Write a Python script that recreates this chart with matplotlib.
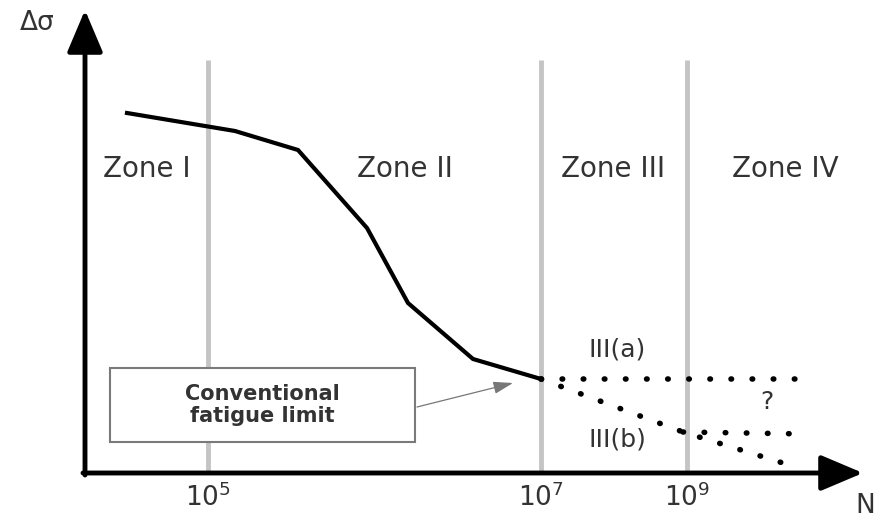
import matplotlib.pyplot as plt
from matplotlib.patches import Rectangle

# schematic S-N curve, positions in chart units (origin at axis corner)
curve_x = [42, 150, 213, 282, 323, 388, 456]
curve_y = [360, 342, 323, 245, 170, 114, 94]

# dotted branches beyond the conventional limit
branch_a_x = [456, 712]
branch_a_y = [94, 94]
branch_b_x = [456, 598, 714]
branch_b_y = [94, 41, 5]
branch_b2_x = [598, 724]
branch_b2_y = [41, 39]

zone_lines = [123, 456, 602]
tick_labels = ['$10^5$', '$10^7$', '$10^9$']
zone_names = ['Zone I', 'Zone II', 'Zone III', 'Zone IV']
zone_x = [62, 320, 528, 700]

txt = '#333333'
grey = '#c4c4c4'

fig = plt.figure(figsize=(8.76, 5.2), dpi=100)
ax = fig.add_axes([0, 0, 1, 1])
ax.set_xlim(-85, 791)
ax.set_ylim(-47, 473)
ax.axis('off')

# zone boundaries
for x in zone_lines:
    ax.plot([x, x], [0, 413], color=grey, lw=3.5, solid_capstyle='butt', zorder=1)

# axes with arrows
ax.annotate('', xy=(778, 0), xytext=(-2, 0),
            arrowprops=dict(arrowstyle='-|>,head_length=1.3,head_width=0.55',
                            mutation_scale=20, lw=3.5, color='black',
                            shrinkA=0, shrinkB=0), zorder=3)
ax.annotate('', xy=(0, 463), xytext=(0, -2),
            arrowprops=dict(arrowstyle='-|>,head_length=1.3,head_width=0.55',
                            mutation_scale=20, lw=3.5, color='black',
                            shrinkA=0, shrinkB=0), zorder=3)

# main curve
ax.plot(curve_x, curve_y, color='black', lw=3, zorder=4,
        solid_joinstyle='miter')

dots = dict(color='black', lw=4, dashes=(0.1, 3.7),
            dash_capstyle='round', zorder=4)
ax.plot(branch_a_x, branch_a_y, **dots)
ax.plot(branch_b_x, branch_b_y, **dots)
ax.plot(branch_b2_x, branch_b2_y, **dots)

for name, x in zip(zone_names, zone_x):
    ax.text(x, 304, name, fontsize=20, color=txt, ha='center', va='center')

for lab, x in zip(tick_labels, zone_lines):
    ax.text(x, -25, lab, fontsize=19, color=txt, ha='center', va='center')

ax.text(532, 123, 'III(a)', fontsize=18, color=txt, ha='center', va='center')
ax.text(532, 33, 'III(b)', fontsize=18, color=txt, ha='center', va='center')
ax.text(682, 71, '?', fontsize=18, color=txt, ha='center', va='center')
ax.text(-48, 450, 'Δσ', fontsize=19, color=txt, ha='center', va='center')
ax.text(790, -33, 'N', fontsize=19, color=txt, ha='right', va='center')

# annotation box
ax.add_patch(Rectangle((25, 31), 305, 74, facecolor='white',
                       edgecolor='#7a7a7a', lw=1.5, zorder=5))
ax.text(177, 68, 'Conventional\nfatigue limit', fontsize=15, fontweight='bold',
        color=txt, ha='center', va='center', linespacing=1.15, zorder=6)
ax.annotate('', xy=(428, 90), xytext=(332, 66),
            arrowprops=dict(arrowstyle='-|>,head_length=0.8,head_width=0.25',
                            mutation_scale=15, lw=0.9, color='#777777',
                            shrinkA=0, shrinkB=0), zorder=5)

fig.savefig('out.png', dpi=100)
